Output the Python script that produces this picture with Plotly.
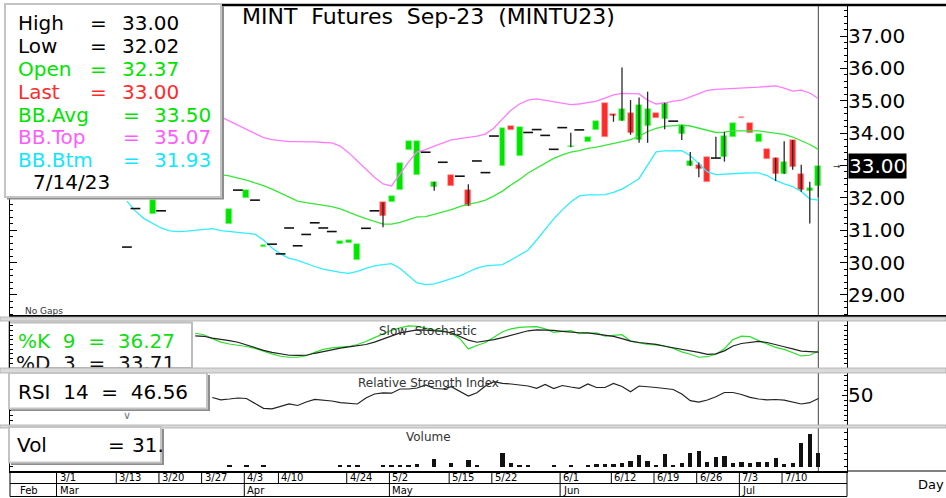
import plotly.graph_objects as go

# ---------------- data ----------------
# one slot per trading day that is drawn (slot 0 = first bar visible right of the legend)
bar_slot = list(range(82))

opens = [30.48, 31.67, None, 31.50, 31.60, None, None, None, None, None, None, None,
         31.19, 32.24, 31.99, 31.93, 30.47, 30.57, 30.27, 31.07, 30.52, 30.87, 31.23, 31.07,
         30.96, 30.59, 30.60, 30.08, 31.06, 31.60, 31.86, 31.88, 32.25, 33.48, 32.71, 33.41,
         32.33, 33.10, 32.71, 32.67, 32.24, 33.14, 32.78, 33.91, 32.98, 34.22, 33.30, 34.02,
         34.11, 33.93, 33.50, 34.17, 33.56, 34.10, 33.73, 34.11, 34.92, 34.59, 34.38, 34.61,
         33.79, 34.22, 34.63, 34.44, 34.37, 33.97, 32.99, 33.02, 33.25, 33.23, 33.25, 33.89,
         34.51, 34.32, 33.73, 33.51, 33.24, 32.74, 33.79, 32.74, 32.22, 32.37]
highs = [30.48, 31.67, None, 31.92, 31.60, None, None, None, None, None, None, None,
         31.67, 32.24, 32.24, 31.93, 30.53, 30.57, 30.27, 31.07, 30.52, 30.87, 31.23, 31.07,
         30.96, 30.66, 30.70, 30.57, 31.06, 31.60, 31.86, 32.07, 33.09, 33.76, 33.76, 33.41,
         32.50, 33.10, 32.71, 32.67, 32.42, 33.14, 32.78, 33.91, 34.15, 34.22, 34.18, 34.02,
         34.11, 33.93, 33.50, 34.17, 34.01, 34.10, 33.87, 34.38, 34.92, 34.59, 36.03, 35.02,
         35.10, 35.28, 34.63, 34.94, 34.37, 34.24, 33.42, 33.09, 33.25, 33.89, 34.04, 34.30,
         34.51, 34.32, 33.97, 33.51, 33.24, 33.75, 33.79, 33.02, 32.50, 33.00]
lows = [30.48, 31.67, None, 31.50, 31.60, None, None, None, None, None, None, None,
        31.19, 32.24, 31.99, 31.93, 30.47, 30.57, 30.27, 31.07, 30.52, 30.87, 31.23, 31.07,
        30.96, 30.59, 30.60, 30.08, 31.06, 31.60, 31.09, 31.88, 32.25, 33.48, 32.71, 33.41,
        32.22, 33.10, 32.38, 32.67, 31.76, 33.14, 32.78, 33.91, 32.98, 34.09, 33.30, 34.02,
        34.11, 33.93, 33.50, 34.17, 33.56, 34.10, 33.73, 34.11, 33.89, 34.35, 34.38, 33.95,
        33.70, 33.70, 34.46, 34.12, 34.37, 33.79, 32.99, 32.64, 32.48, 33.23, 33.12, 33.89,
        34.46, 33.99, 33.73, 33.19, 32.52, 32.74, 32.87, 32.19, 31.21, 32.02]
closes = [30.48, 31.67, None, 31.92, 31.60, None, None, None, None, None, None, None,
          31.67, 32.24, 32.24, 31.93, 30.53, 30.57, 30.27, 31.07, 30.52, 30.87, 31.23, 31.07,
          30.96, 30.66, 30.70, 30.57, 31.06, 31.60, 31.45, 32.07, 33.09, 33.76, 33.76, 33.41,
          32.50, 33.10, 32.38, 32.67, 31.76, 33.14, 32.78, 33.91, 34.15, 34.09, 34.18, 34.02,
          34.11, 33.93, 33.50, 34.17, 33.61, 34.10, 33.87, 34.38, 33.89, 34.54, 34.74, 33.99,
          34.87, 34.74, 34.46, 34.94, 34.37, 34.24, 33.15, 32.88, 32.48, 33.23, 33.91, 34.30,
          34.46, 33.99, 33.97, 33.19, 32.74, 33.11, 32.94, 32.24, 32.31, 33.00]

bb_top = [None] * 11 + [
    34.50, 34.37, 34.24, 34.10, 33.97, 33.86, 33.80, 33.76, 33.74, 33.74, 33.74, 33.73,
    33.71, 33.70, 33.60, 33.39, 33.14, 32.89, 32.64, 32.43, 32.37, 32.74, 33.11, 33.42,
    33.49, 33.60, 33.70, 33.79, 33.83, 33.86, 33.91, 33.97, 34.16, 34.44, 34.71, 34.90,
    35.02, 35.06, 35.01, 34.96, 34.93, 34.88, 34.90, 34.95, 34.99, 35.08, 35.18, 35.23,
    35.22, 35.21, 35.02, 34.90, 34.93, 34.99, 35.02, 35.12, 35.21, 35.32, 35.35, 35.36,
    35.37, 35.39, 35.41, 35.42, 35.44, 35.46, 35.39, 35.30, 35.33, 35.24, 35.07]
bb_avg = [None] * 11 + [
    32.72, 32.68, 32.61, 32.55, 32.46, 32.38, 32.27, 32.15, 32.03, 31.90, 31.85, 31.81,
    31.78, 31.73, 31.66, 31.55, 31.45, 31.36, 31.27, 31.19, 31.19, 31.24, 31.33, 31.41,
    31.42, 31.49, 31.55, 31.64, 31.73, 31.81, 31.85, 31.93, 32.06, 32.21, 32.40, 32.57,
    32.77, 32.92, 33.08, 33.22, 33.33, 33.41, 33.46, 33.53, 33.57, 33.62, 33.68, 33.74,
    33.80, 33.90, 34.05, 34.15, 34.21, 34.24, 34.25, 34.22, 34.16, 34.08, 34.02, 34.03,
    34.07, 34.07, 34.07, 34.07, 34.03, 34.00, 33.96, 33.88, 33.77, 33.65, 33.50]
bb_btm = [31.90, 31.59, 31.36, 31.21, 31.07, 30.98, 30.96, 30.97, 30.99, 31.02, 31.05, 30.99,
          30.96, 30.92, 30.91, 30.88, 30.70, 30.45, 30.27, 30.13, 30.07, 29.97, 29.88, 29.80,
          29.74, 29.70, 29.67, 29.73, 29.82, 29.90, 29.94, 29.97, 29.82, 29.59, 29.37, 29.32,
          29.34, 29.42, 29.51, 29.59, 29.71, 29.83, 29.90, 29.93, 29.94, 30.08, 30.24, 30.39,
          30.70, 31.02, 31.35, 31.63, 31.87, 32.06, 32.09, 32.09, 32.10, 32.17, 32.27, 32.43,
          32.60, 33.01, 33.42, 33.45, 33.46, 33.46, 33.31, 33.05, 32.80, 32.72, 32.74, 32.75,
          32.76, 32.77, 32.77, 32.69, 32.54, 32.43, 32.35, 32.20, 31.97, 31.93]

stoch_k = [None] * 8 + [
    74.0, 70.8, 62.5, 55.2, 51.0, 49.0, 45.8, 41.7, 35.4, 30.2, 25.0, 22.9, 22.9, 26.0,
    33.3, 39.6, 42.7, 43.8, 45.8, 50.0, 56.3, 64.6, 72.9, 80.2, 85.4, 89.6, 88.5, 84.4,
    81.3, 79.2, 74.0, 62.5, 40.6, 47.9, 54.2, 65.6, 77.1, 83.3, 86.5, 87.5, 88.1, 83.3,
    76.0, 78.1, 79.6, 72.9, 74.0, 75.0, 67.7, 68.8, 70.8, 57.3, 53.1, 50.0, 49.0, 46.9,
    41.7, 34.4, 29.2, 22.9, 24.0, 29.2, 41.0, 60.4, 67.7, 66.7, 58.3, 51.0, 43.8, 39.6,
    33.3, 25.6, 27.1, 36.27]
stoch_d = [None] * 8 + [
    68.3, 67.5, 63.5, 61.3, 58.3, 54.8, 49.0, 42.7, 37.5, 33.3, 29.6, 27.1, 26.7, 27.1,
    31.3, 35.0, 39.6, 42.1, 44.8, 46.9, 50.0, 55.2, 61.5, 67.7, 74.6, 78.1, 81.0, 80.6,
    79.8, 78.1, 75.0, 67.7, 59.4, 54.8, 57.3, 60.4, 64.6, 69.8, 75.6, 79.2, 81.3, 80.8,
    80.0, 78.1, 76.0, 75.0, 74.6, 72.5, 70.8, 67.3, 62.5, 57.3, 54.2, 52.9, 50.4, 46.3,
    43.1, 40.0, 37.5, 33.3, 29.2, 30.2, 36.5, 46.9, 52.1, 54.6, 56.7, 54.2, 49.0, 45.2,
    40.6, 36.0, 34.8, 33.71]
rsi = [None] * 10 + [
    47.5, 45.2, 46.0, 47.0, 46.5, 42.0, 36.7, 36.2, 38.5, 41.2, 39.5, 43.0, 45.6, 44.8,
    44.0, 42.3, 41.6, 41.0, 47.0, 51.0, 52.2, 51.8, 56.0, 56.0, 57.0, 60.0, 56.5, 56.0,
    58.3, 54.0, 49.0, 52.3, 59.0, 63.3, 61.7, 61.0, 60.3, 59.0, 56.7, 60.5, 56.5, 59.5,
    58.0, 56.7, 61.0, 57.5, 57.5, 61.5, 58.5, 53.3, 59.0, 58.5, 57.5, 56.5, 55.5, 51.0,
    44.3, 42.8, 45.0, 48.3, 52.5, 52.5, 50.5, 47.7, 46.0, 45.2, 45.5, 44.8, 43.0, 41.0,
    42.3, 46.56]
volume = [0, 0, 0, None, 0, 0, 0, 0, 0, 0, 0, 0,
          2, 0, 2, 0, 2, 0, 0, 0, 0, 0, 0, 0,
          0, 2, 2, 2, 0, 0, 4, 4, 4, 4, 7, 0,
          17, 0, 9, 0, 15, 2, 0, 0, 31, 9, 4, 4,
          0, 0, 4, 0, 4, 0, 4, 7, 7, 7, 9, 13,
          26, 13, 4, 29, 4, 9, 31, 35, 11, 22, 24, 9,
          11, 9, 11, 11, 20, 7, 9, 53, 73, 31]

price_ticks = [29, 30, 31, 32, 33, 34, 35, 36, 37]
week_labels = ["3/1", "3/13", "3/20", "3/27", "4/3", "4/10", "4/24", "5/2", "5/15",
               "5/22", "6/1", "6/12", "6/19", "6/26", "7/3", "7/10"]
week_slots = [-8, -1, 4, 9, 14, 18, 26, 31, 38, 43, 51, 57, 62, 67, 72, 77]
month_labels = ["Feb", "Mar", "Apr", "May", "Jun", "Jul"]
month_slots = [-12.6, -8, 14, 31, 51, 72]
last_date = "7/14/23"

# ---------------- layout geometry ----------------
FONT = "DejaVu Sans"
W, H = 946, 498
ML, MR, MT, MB = 10, 99, 5, 27
PW, PH = W - ML - MR, H - MT - MB
XR = [-13.7, 84.36]
PRICE_R = [28.351, 37.958]
STO_R = [0, 100]
RSI_R = [20, 72]
VOL_R = [-9.5, 85.1]


def px(x):
    return (x - ML) / PW


def py(y):
    return (H - MB - y) / PH


def slot_of(x):
    return XR[0] + (x - ML) / PW * (XR[1] - XR[0])


D_MAIN = [py(316), 1.0]
D_STO = [py(368), py(321)]
D_RSI = [py(425), py(373)]
D_VOL = [0.0, py(428)]

GREEN, RED = "#00e400", "#ff2b2b"
PINK, MID, CYAN = "#ff7cff", "#3ae63a", "#2eeeff"

fig = go.Figure()

# ---- candles: wicks, bodies, flat days ----
wx, wy = [], []
bx, bbase, bh, bcol, bline = [], [], [], [], []
dx, dy = [], []
for s, o, h, l, c in zip(bar_slot, opens, highs, lows, closes):
    if o is None:
        continue
    if h > max(o, c) or l < min(o, c):
        wx += [s, s, None]
        wy += [l, h, None]
    if c == o:
        dx.append(s)
        dy.append(c)
    else:
        bx.append(s)
        bbase.append(min(o, c))
        bh.append(abs(c - o))
        bcol.append(GREEN if c > o else RED)
        bline.append("#7dff7d" if c > o else "#ff9a9a")

for yv, col in [(bb_top, PINK), (bb_avg, MID), (bb_btm, CYAN)]:
    fig.add_trace(go.Scatter(x=bar_slot, y=yv, mode="lines", line=dict(color=col, width=1.3),
                             hoverinfo="skip", xaxis="x", yaxis="y"))
fig.add_trace(go.Scatter(x=wx, y=wy, mode="lines", line=dict(color="#2a2a2a", width=1.3),
                         hoverinfo="skip", xaxis="x", yaxis="y"))
fig.add_trace(go.Bar(x=bx, y=bh, base=bbase, width=0.7,
                     marker=dict(color=bcol, line=dict(color=bline, width=0.6)),
                     hoverinfo="skip", xaxis="x", yaxis="y"))
fig.add_trace(go.Scatter(x=dx, y=dy, mode="markers",
                         marker=dict(symbol="line-ew", size=7, line=dict(color="#111", width=1.6)),
                         hoverinfo="skip", xaxis="x", yaxis="y"))

# ---- slow stochastic ----
fig.add_trace(go.Scatter(x=bar_slot, y=stoch_k, mode="lines", line=dict(color="#2ee02e", width=1.2),
                         hoverinfo="skip", xaxis="x", yaxis="y2"))
fig.add_trace(go.Scatter(x=bar_slot, y=stoch_d, mode="lines", line=dict(color="#222", width=1.2),
                         hoverinfo="skip", xaxis="x", yaxis="y2"))
sto_v = STO_R[0] + (368 - 365) / 47 * (STO_R[1] - STO_R[0])
fig.add_trace(go.Scatter(x=[slot_of(16)], y=[sto_v], mode="text",
                         text=["%D\u00a0\u00a03\u00a0\u00a0=\u00a0\u00a0" + f"{stoch_d[-1]:.2f}"],
                         textposition="middle right", cliponaxis=True,
                         textfont=dict(family=FONT, size=20, color="#111"),
                         hoverinfo="skip", xaxis="x", yaxis="y2"))

# ---- RSI ----
fig.add_trace(go.Scatter(x=bar_slot, y=rsi, mode="lines", line=dict(color="#222", width=1.2),
                         hoverinfo="skip", xaxis="x", yaxis="y3"))

# ---- volume ----
fig.add_trace(go.Bar(x=bar_slot, y=volume, width=0.5, marker=dict(color="#111", line=dict(width=0)),
                     hoverinfo="skip", xaxis="x", yaxis="y4"))

# ---------------- shapes ----------------
shapes = []


def line(x0, y0, x1, y1, color="black", width=1, layer="above", xref="paper"):
    shapes.append(dict(type="line", xref=xref, yref="paper", x0=x0, y0=y0, x1=x1, y1=y1,
                       line=dict(color=color, width=width), layer=layer))


def rect(x0, y0, x1, y1, fill, lc=None, lw=0, layer="above"):
    shapes.append(dict(type="rect", xref="paper", yref="paper", x0=px(x0), x1=px(x1),
                       y0=py(y1), y1=py(y0), fillcolor=fill,
                       line=dict(color=lc or fill, width=lw), layer=layer))


# cursor line on last bar
line(bar_slot[-1], 0, bar_slot[-1], 1, color="#444", width=1, layer="below", xref="x")
# frame lines
line(px(10), 1, px(946), 1, width=2.5, layer="below")
line(px(9), py(316), px(946), py(316), width=2)
# separator bands
for y0, y1 in [(317, 321), (368, 373), (425, 428)]:
    rect(0, y0, 946, y1, "#dadada", "#a9a9a9", 0.8)
# stochastic legend box (below traces so its text trace sits on top)
rect(9, 322.5, 192, 368, "white", "#bdbdbd", 2, layer="below")
# main legend box with shadow
rect(7, 6, 224, 199.5, "#8d8d8d")
rect(5, 4, 221, 197, "white", "#c4c4c4", 2)
# RSI legend box
rect(11, 375, 210, 411, "#8d8d8d")
rect(9, 373, 207, 408.5, "white", "#c4c4c4", 2)
# volume legend box
rect(11, 429, 164, 465, "#8d8d8d")
rect(9, 427, 161, 462.5, "white", "#c4c4c4", 2)

# date strip
line(px(10), py(483.5), px(847), py(483.5))
line(px(10), py(496.5), px(847), py(496.5))
line(px(10), py(471), px(10), py(496.5))
line(px(847), py(471), px(847), py(496.5))
line(px(847), py(471), px(946), py(471), width=1)
for s in week_slots:
    line(s - 0.25, py(471), s - 0.25, py(483.5), xref="x")
for s in month_slots[1:]:
    line(s - 0.25, py(483.5), s - 0.25, py(496.5), xref="x")

# ---------------- annotations ----------------
ann = []


def text(x, y, t, size=20, color="black", xanchor="left", xref="paper", yref="paper", **kw):
    ann.append(dict(x=x, y=y, xref=xref, yref=yref, text=t, showarrow=False,
                    xanchor=xanchor, yanchor="middle",
                    font=dict(family=FONT, size=size, color=color), **kw))


NB = "\u00a0"
text(px(240), py(17), NB.join(["MINT", "", "Futures", "", "Sep-23", "", "(MINTU23)"]), size=22)

rows = [("High", highs[-1], "black", 98, 120),
        ("Low", lows[-1], "black", 98, 120),
        ("Open", opens[-1], GREEN, 98, 120),
        ("Last", closes[-1], RED, 98, 120),
        ("BB.Avg", bb_avg[-1], GREEN, 131, 152),
        ("BB.Top", bb_top[-1], "#ff5cff", 131, 152),
        ("BB.Btm", bb_btm[-1], "#12e6ff", 131, 152)]
row_y = [23.5, 46, 69, 91.5, 114.5, 137, 159.5]
for (lab, val, col, xe, xv), yy in zip(rows, row_y):
    text(px(16), py(yy), lab, color=col)
    text(px(xe), py(yy), "=", color=col, xanchor="center")
    text(px(xv), py(yy), f"{val:.2f}", color=col)
text(px(31), py(182), last_date)

text(px(16), py(341), "%K" + NB * 2 + "9" + NB * 2 + "=" + NB * 2 + f"{stoch_k[-1]:.2f}", color="#12dd12")
text(px(16), py(391.5), "RSI" + NB * 2 + "14" + NB * 2 + "=" + NB * 2 + f"{rsi[-1]:.2f}")
text(px(127), py(415), "\u2228", size=11, color="#777", xanchor="center")
text(px(15), py(445), "Vol")
text(px(116), py(445), "=", xanchor="center")
text(px(130), py(445), f"{volume[-1]}.")

text(px(428), py(331), "Slow" + NB * 2 + "Stochastic", size=12, color="#333", xanchor="center")
text(px(428), py(382.5), "Relative" + NB + "Strength" + NB + "Index", size=12, color="#333", xanchor="center")
text(px(428), py(437), "Volume", size=12, color="#333", xanchor="center")
text(px(23), py(310.5), "No" + NB + "Gaps", size=9, color="#333")

# price marker of last close
text(px(848), closes[-1], f"{closes[-1]:.2f}", color="white", yref="y", bgcolor="black", borderpad=0)
text(px(837), closes[-1], "\u2192", size=9, color="#333", xanchor="center", yref="y")

for lab, s in zip(week_labels, week_slots):
    text(s - 0.25, py(477.5), lab, size=10, xref="x", xshift=1)
for lab, s in zip(month_labels, month_slots):
    text(s - 0.25, py(490), lab, size=10, xref="x", xshift=1)
text(px(916), py(484), "Day", size=13)

axis_common = dict(showgrid=False, zeroline=False, side="right", anchor="x",
                   showline=True, linecolor="black", linewidth=1, mirror="ticks",
                   ticks="inside", tickcolor="black")

# label of the last close is shown in the black marker instead of the axis
price_text = ["" if abs(t - closes[-1]) < 1e-9 else f"{t:.2f}" for t in price_ticks]

fig.update_layout(
    width=W, height=H,
    margin=dict(l=ML, r=MR, t=MT, b=MB),
    paper_bgcolor="white", plot_bgcolor="white",
    showlegend=False, barmode="overlay", bargap=0,
    font=dict(family=FONT, color="black"),
    xaxis=dict(range=XR, showgrid=False, zeroline=False, showticklabels=False, ticks="",
               showline=True, linecolor="black", linewidth=2, anchor="y4"),
    yaxis=dict(domain=D_MAIN, range=PRICE_R, tickvals=price_ticks, ticktext=price_text,
               ticklen=7, tickfont=dict(family=FONT, size=20, color="black"),
               minor=dict(ticks="inside", ticklen=3, dtick=0.2, tickcolor="black"),
               **axis_common),
    yaxis2=dict(domain=D_STO, range=STO_R, dtick=10, ticklen=3, showticklabels=False,
                **axis_common),
    yaxis3=dict(domain=D_RSI, range=RSI_R, tickvals=[50], ticktext=["50"], ticklen=5,
                tickfont=dict(family=FONT, size=20, color="black"),
                minor=dict(ticks="inside", ticklen=3, dtick=5, tickcolor="black"),
                **axis_common),
    yaxis4=dict(domain=D_VOL, range=VOL_R, dtick=15, ticklen=3, showticklabels=False,
                **axis_common),
    shapes=shapes,
    annotations=ann,
)
try:
    fig.update_layout(yaxis_ticklabelstandoff=-4, yaxis3_ticklabelstandoff=-4)
except Exception:
    pass

# the page body has a default 8px margin; remove it so the figure sits at the window origin
fig.write_html("out.html", config={"displayModeBar": False},
               post_script="document.body.style.margin='0px';")
